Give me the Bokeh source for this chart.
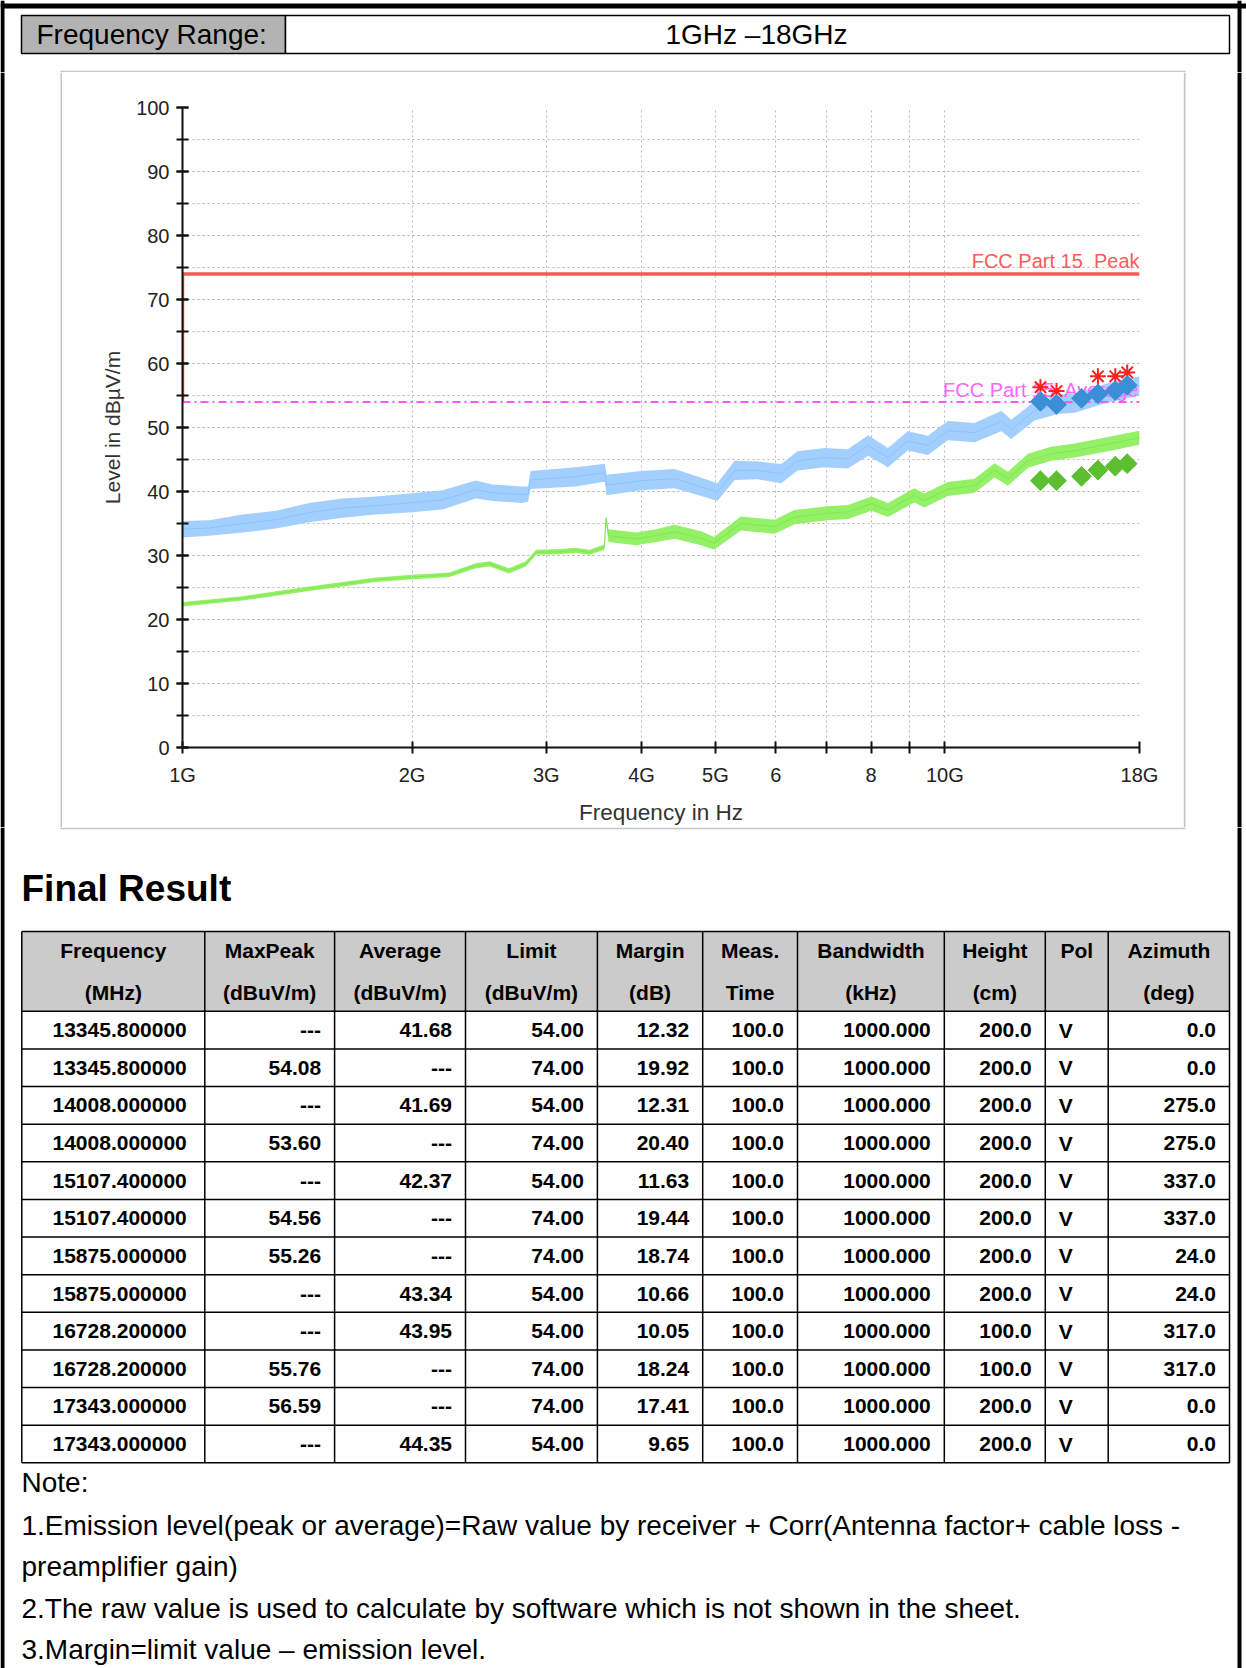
import numpy as np
from bokeh.plotting import figure
from bokeh.models import Range1d, FixedTicker, SingleIntervalTicker
from bokeh.layouts import column, row
from bokeh.embed import file_html
from bokeh.resources import INLINE
from bokeh.core.properties import value

FONT = "Liberation Sans"

# ---------------- header ----------------
range_label = "Frequency Range:"
range_value = "1GHz \u201318GHz"

# ---------------- chart data ----------------
f_start_hz = 1e9
f_stop_hz = 18e9
peak_limit = 74.0
avg_limit = 54.0
peak_limit_name = "FCC Part 15\u00a0 Peak"
avg_limit_name = "FCC Part 15\u00a0 Average"

x_tick_values = [1e9, 2e9, 3e9, 4e9, 5e9, 6e9, 7e9, 8e9, 9e9, 10e9, 18e9]
x_tick_labels = ["1G", "2G", "3G", "4G", "5G", "6", "", "8", "", "10G", "18G"]

# peak trace (light blue): centre level and half noise band
peak_freq_ghz = [1.00, 1.084, 1.199, 1.326, 1.466, 1.621, 1.793, 1.983, 2.193, 2.425,
                 2.551, 2.79, 2.84, 2.86, 3.28, 3.56, 3.58, 3.60, 4.0, 4.42,
                 4.89, 5.03, 5.30, 5.68, 6.10, 6.41, 6.95, 7.46, 7.93, 8.42,
                 8.94, 9.50, 10.09, 10.94, 11.86, 12.22, 13.11, 14.07, 14.80, 16.36, 18.0]
peak_level = [34.1, 34.3, 35.0, 35.6, 36.7, 37.4, 37.8, 38.2, 38.7, 40.3,
              39.8, 39.5, 39.6, 41.8, 42.3, 42.9, 42.9, 41.0, 41.7, 42.0,
              40.4, 39.9, 43.3, 43.3, 42.8, 44.8, 45.3, 45.1, 47.2, 45.3,
              47.9, 47.2, 49.5, 49.2, 51.0, 49.7, 52.6, 53.6, 53.8, 55.4, 56.5]
peak_spread = [1.3, 1.2, 1.4, 1.4, 1.5, 1.5, 1.4, 1.5, 1.5, 1.4,
               1.3, 1.3, 1.2, 1.4, 1.5, 1.4, 1.4, 1.6, 1.5, 1.5,
               1.4, 1.4, 1.5, 1.4, 1.5, 1.5, 1.5, 1.5, 1.6, 1.5,
               1.5, 1.5, 1.5, 1.5, 1.6, 1.5, 1.5, 1.5, 1.5, 1.5, 1.5]

# average trace (light green)
avg_freq_ghz = [1.00, 1.199, 1.466, 1.793, 1.983, 2.24, 2.425, 2.53, 2.68, 2.82,
                2.91, 3.12, 3.28, 3.42, 3.575, 3.594, 3.62, 3.934, 4.18, 4.42,
                4.79, 4.98, 5.40, 5.98, 6.35, 7.02, 7.46, 8.01, 8.42, 9.12,
                9.40, 10.09, 10.94, 11.62, 12.10, 12.85, 13.79, 14.80, 16.36, 18.0]
avg_level = [22.4, 23.3, 24.8, 26.2, 26.6, 27.0, 28.4, 28.7, 27.6, 28.7,
             30.5, 30.6, 30.8, 30.5, 31.3, 35.9, 33.1, 32.6, 33.1, 33.7,
             32.7, 31.9, 35.0, 34.5, 36.0, 36.6, 36.8, 38.1, 37.1, 39.4,
             38.6, 40.4, 40.9, 43.3, 42.0, 44.8, 45.9, 46.4, 47.4, 48.4]
avg_spread = [0.35, 0.35, 0.35, 0.35, 0.35, 0.35, 0.4, 0.4, 0.4, 0.4,
              0.4, 0.4, 0.4, 0.4, 0.4, 0.3, 1.0, 1.0, 1.0, 1.1,
              1.1, 1.0, 1.1, 1.1, 1.1, 1.1, 1.1, 1.1, 1.1, 1.1,
              1.1, 1.1, 1.1, 1.1, 1.1, 1.1, 1.1, 1.1, 1.1, 1.1]

# preliminary peak markers (red stars)
star_freq_mhz = [13345.8, 14008.0, 15875.0, 16728.2, 17343.0]
star_level = [56.3, 55.7, 58.0, 58.0, 58.6]

# ---------------- final result table ----------------
col_frequency = ["13345.800000", "13345.800000", "14008.000000", "14008.000000",
                 "15107.400000", "15107.400000", "15875.000000", "15875.000000",
                 "16728.200000", "16728.200000", "17343.000000", "17343.000000"]
col_maxpeak = ["---", "54.08", "---", "53.60", "---", "54.56", "55.26", "---", "---", "55.76", "56.59", "---"]
col_average = ["41.68", "---", "41.69", "---", "42.37", "---", "---", "43.34", "43.95", "---", "---", "44.35"]
col_limit = ["54.00", "74.00", "54.00", "74.00", "54.00", "74.00", "74.00", "54.00", "54.00", "74.00", "74.00", "54.00"]
col_margin = ["12.32", "19.92", "12.31", "20.40", "11.63", "19.44", "18.74", "10.66", "10.05", "18.24", "17.41", "9.65"]
col_meas_time = ["100.0"] * 12
col_bandwidth = ["1000.000"] * 12
col_height = ["200.0", "200.0", "200.0", "200.0", "200.0", "200.0", "200.0", "200.0", "100.0", "100.0", "200.0", "200.0"]
col_pol = ["V"] * 12
col_azimuth = ["0.0", "0.0", "275.0", "275.0", "337.0", "337.0", "24.0", "24.0", "317.0", "317.0", "0.0", "0.0"]

header_line1 = ["Frequency", "MaxPeak", "Average", "Limit", "Margin", "Meas.", "Bandwidth", "Height", "Pol", "Azimuth"]
header_line2 = ["(MHz)", "(dBuV/m)", "(dBuV/m)", "(dBuV/m)", "(dB)", "Time", "(kHz)", "(cm)", "", "(deg)"]

title_text = "Final Result"
notes = ["Note:",
         "1.Emission level(peak or average)=Raw value by receiver + Corr(Antenna factor+ cable loss -",
         "preamplifier gain)",
         "2.The raw value is used to calculate by software which is not shown in the sheet.",
         "3.Margin=limit value \u2013 emission level."]

W = 1246
H_TOP, H_CHART, H_BOT = 72, 755, 841
SIDE_L, SIDE_R = 62, 63   # strips left/right of the chart
BOX_L, BOX_R = 60, 1185
BORDER_R = 1237           # left edge of right page border
GRAY = "#c6c6c6"


def no_align(p):
    try:
        p.frame_align = False
    except Exception:
        pass


def blank(width, height):
    p = figure(width=width, height=height, x_range=Range1d(0, width), y_range=Range1d(height, 0),
               output_backend="svg", toolbar_location=None, min_border=0,
               x_axis_location=None, y_axis_location=None)
    no_align(p)
    p.outline_line_color = None
    p.background_fill_color = "white"
    p.border_fill_color = "white"
    p.xgrid.visible = False
    p.ygrid.visible = False
    return p


def side_borders(p, height):
    p.quad(left=[0, BORDER_R], right=[4, BORDER_R + 4], top=[0, 0], bottom=[height, height],
           fill_color="black", line_color=None)


# ---------------- top ----------------
pt = blank(W, H_TOP)
side_borders(pt, H_TOP)
pt.quad(left=[0], right=[W], top=[3], bottom=[8], fill_color="black", line_color=None)
pt.quad(left=[21], right=[285], top=[15], bottom=[53], fill_color="#b3b3b3", line_color="black", line_width=1.5)
pt.quad(left=[285], right=[1229], top=[15], bottom=[53], fill_color="white", line_color="black", line_width=1.5)
pt.text(x=[36], y=[34], text=[range_label], text_font=value(FONT), text_font_size="28px",
        text_baseline="middle", text_align="left", text_color="black")
pt.text(x=[756], y=[34], text=[range_value], text_font=value(FONT), text_font_size="28px",
        text_baseline="middle", text_align="center", text_color="black")
pt.quad(left=[BOX_L], right=[BOX_R], top=[H_TOP - 1.8], bottom=[H_TOP], fill_color=GRAY, line_color=None)

# ---------------- chart side strips ----------------
pl = blank(SIDE_L, H_CHART)
pl.quad(left=[0], right=[4], top=[0], bottom=[H_CHART], fill_color="black", line_color=None)
pl.quad(left=[BOX_L], right=[BOX_L + 1.8], top=[0], bottom=[H_CHART], fill_color=GRAY, line_color=None)
pr = blank(SIDE_R, H_CHART)
CW = W - SIDE_L - SIDE_R
x0r = SIDE_L + CW
pr.quad(left=[BOX_R - 1.8 - x0r], right=[BOX_R - x0r], top=[0], bottom=[H_CHART], fill_color=GRAY, line_color=None)
pr.quad(left=[BORDER_R - x0r], right=[BORDER_R + 4 - x0r], top=[0], bottom=[H_CHART], fill_color="black", line_color=None)

# ---------------- chart ----------------
pc = figure(width=CW, height=H_CHART, x_axis_type="log",
            x_range=Range1d(f_start_hz, f_stop_hz), y_range=Range1d(0, 100),
            output_backend="svg", toolbar_location=None,
            min_border_left=182 - SIDE_L, min_border_right=SIDE_L + CW - 1139,
            min_border_top=35, min_border_bottom=76)
no_align(pc)
pc.outline_line_color = None
pc.background_fill_color = "white"
pc.border_fill_color = "white"

xa = pc.xaxis[0]
xa.ticker = FixedTicker(ticks=x_tick_values, minor_ticks=[])
xa.major_label_overrides = {int(v): lab for v, lab in zip(x_tick_values, x_tick_labels)}
ya = pc.yaxis[0]
ya.ticker = SingleIntervalTicker(interval=10, num_minor_ticks=2)

for ax in (xa, ya):
    ax.axis_line_width = 2
    ax.axis_line_color = "#111111"
    ax.major_tick_line_width = 2
    ax.major_tick_line_color = "#111111"
    ax.minor_tick_line_width = 2
    ax.minor_tick_line_color = "#111111"
    ax.major_tick_in = 6
    ax.major_tick_out = 6
    ax.minor_tick_in = 6
    ax.minor_tick_out = 6
    ax.major_label_text_font = FONT
    ax.major_label_text_font_size = "20px"
    ax.major_label_text_color = "#222222"
    ax.axis_label_text_font = FONT
    ax.axis_label_text_font_style = "normal"
    ax.axis_label_text_color = "#333333"
xa.axis_label_text_font_size = "22.5px"
ya.axis_label_text_font_size = "21px"
xa.axis_label_standoff = 11
ya.axis_label_standoff = 9
xa.major_label_standoff = 10
ya.major_label_standoff = 7
xa.axis_label = "Frequency in Hz"
ya.axis_label = "Level in dB\u00b5V/m"

for g in (pc.xgrid[0], pc.ygrid[0]):
    g.grid_line_color = "#b8b8b8"
    g.grid_line_dash = "2 3"
    g.grid_line_width = 1
pc.ygrid[0].minor_grid_line_color = "#b8b8b8"
pc.ygrid[0].minor_grid_line_dash = "2 3"
pc.ygrid[0].minor_grid_line_width = 1

pk_f = np.array(peak_freq_ghz) * 1e9
pk_l = np.array(peak_level)
pk_s = np.array(peak_spread)
av_f = np.array(avg_freq_ghz) * 1e9
av_l = np.array(avg_level)
av_s = np.array(avg_spread)

pc.varea(x=pk_f, y1=pk_l - pk_s, y2=pk_l + pk_s, fill_color="#a3cfff")
pc.line(x=pk_f, y=pk_l, line_color="#8cc2fb", line_width=1)
pc.varea(x=av_f, y1=av_l - av_s, y2=av_l + av_s, fill_color="#94f066")
pc.line(x=av_f, y=av_l, line_color="#84e853", line_width=1.2)

pc.line(x=[f_start_hz, f_start_hz, f_stop_hz], y=[avg_limit, peak_limit, peak_limit],
        line_color="#ff4d4d", line_width=3.5, line_alpha=0.95)
pc.line(x=[f_start_hz, f_stop_hz], y=[avg_limit, avg_limit],
        line_color="#ff55ff", line_width=2, line_dash="8 4 2 4")

pc.text(x=[f_stop_hz], y=[peak_limit], text=[peak_limit_name], text_align="right",
        text_baseline="bottom", y_offset=-2, text_font=value(FONT), text_font_size="20px",
        text_color="#ff5a5a")
pc.text(x=[f_stop_hz], y=[avg_limit], text=[avg_limit_name], text_align="right",
        text_baseline="bottom", y_offset=-1, text_font=value(FONT), text_font_size="20px",
        text_color="#ff66ff")

# final markers from the table
mk_pk_f, mk_pk_v, mk_av_f, mk_av_v = [], [], [], []
for fr, mp, av in zip(col_frequency, col_maxpeak, col_average):
    if mp != "---":
        mk_pk_f.append(float(fr) * 1e6)
        mk_pk_v.append(float(mp))
    if av != "---":
        mk_av_f.append(float(fr) * 1e6)
        mk_av_v.append(float(av))

pc.scatter(x=np.array(star_freq_mhz) * 1e6, y=star_level, marker="asterisk", size=16,
           line_color="#ff2020", line_width=2)
pc.scatter(x=mk_pk_f, y=mk_pk_v, marker="square", angle=np.pi / 4, size=14,
           fill_color="#3a8fd6", line_color="#3a8fd6")
pc.scatter(x=mk_av_f, y=mk_av_v, marker="square", angle=np.pi / 4, size=14,
           fill_color="#5cbf30", line_color="#5cbf30")

# ---------------- bottom ----------------
pb = blank(W, H_BOT)
side_borders(pb, H_BOT)
pb.quad(left=[BOX_L], right=[BOX_R], top=[0], bottom=[1.8], fill_color=GRAY, line_color=None)
pb.text(x=[21], y=[61], text=[title_text], text_font=value(FONT), text_font_size="37px",
        text_font_style="bold", text_baseline="middle", text_color="black")

col_edges = [21.3, 204.3, 334.1, 465.0, 596.9, 702.2, 797.0, 943.8, 1044.8, 1107.7, 1229.0]
t_top, h_bottom, row_h = 104.0, 183.8, 37.63
n_rows = len(col_frequency)
t_bottom = h_bottom + row_h * n_rows

pb.quad(left=[col_edges[0]], right=[col_edges[-1]], top=[t_top], bottom=[h_bottom],
        fill_color="#cbcbcb", line_color=None)
xs0 = list(col_edges)
pb.segment(x0=xs0, y0=[t_top] * len(xs0), x1=xs0, y1=[t_bottom] * len(xs0),
           line_color="black", line_width=1.5)
hy = [t_top, h_bottom] + [h_bottom + row_h * (i + 1) for i in range(n_rows)]
pb.segment(x0=[col_edges[0]] * len(hy), y0=hy, x1=[col_edges[-1]] * len(hy), y1=hy,
           line_color="black", line_width=1.5)

centers = [(col_edges[i] + col_edges[i + 1]) / 2 for i in range(len(col_edges) - 1)]
tfont = dict(text_font=value(FONT), text_font_size="21px", text_font_style="bold",
             text_baseline="middle", text_color="black")
pb.text(x=centers, y=[123] * len(centers), text=header_line1, text_align="center", **tfont)
pb.text(x=centers, y=[164.7] * len(centers), text=header_line2, text_align="center", **tfont)

columns = [col_frequency, col_maxpeak, col_average, col_limit, col_margin,
           col_meas_time, col_bandwidth, col_height, col_pol, col_azimuth]
row_y = [h_bottom + row_h * (i + 0.5) for i in range(n_rows)]
rx, ry, rt, lx, ly, lt = [], [], [], [], [], []
for j, col in enumerate(columns):
    for i, s in enumerate(col):
        if j == 8:
            lx.append(col_edges[j] + 13.5); ly.append(row_y[i]); lt.append(s)
        else:
            pad = 18 if j == 0 else 13.5
            rx.append(col_edges[j + 1] - pad); ry.append(row_y[i]); rt.append(s)
pb.text(x=rx, y=ry, text=rt, text_align="right", **tfont)
pb.text(x=lx, y=ly, text=lt, text_align="left", **tfont)

note_y = [655, 697.7, 739.2, 780.7, 822]
pb.text(x=[21] * len(notes), y=note_y, text=notes, text_font=value(FONT), text_font_size="28px",
        text_baseline="middle", text_align="left", text_color="black")

layout = column(pt, row(pl, pc, pr, spacing=0), pb, spacing=0)
open("out.html", "w").write(file_html(layout, INLINE))
